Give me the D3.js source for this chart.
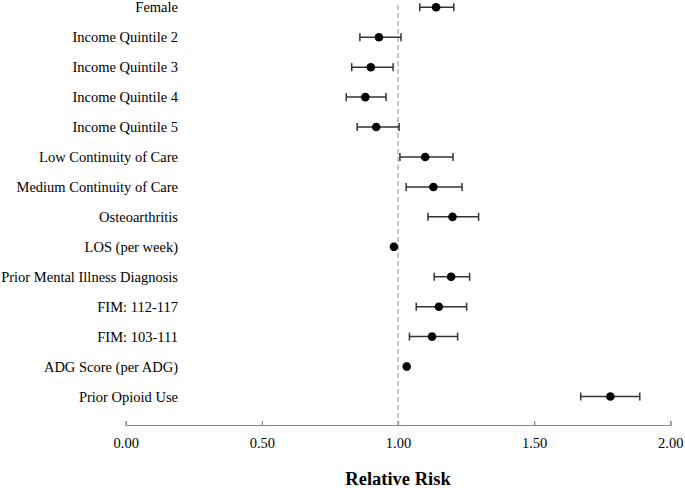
<!DOCTYPE html>
<html>
<head>
<meta charset="utf-8">
<script src="https://cdn.jsdelivr.net/npm/d3@7"></script>
<style>
  html, body { margin: 0; padding: 0; background: #fff; }
  svg { display: block; }
  text { font-family: "Liberation Serif", "Times New Roman", serif; fill: #000; }
</style>
</head>
<body>
<svg id="chart" width="685" height="488"></svg>
<script>
const categories = [
  "Female", "Income Quintile 2", "Income Quintile 3", "Income Quintile 4", "Income Quintile 5",
  "Low Continuity of Care", "Medium Continuity of Care", "Osteoarthritis", "LOS (per week)",
  "Prior Mental Illness Diagnosis", "FIM: 112-117", "FIM: 103-111", "ADG Score (per ADG)", "Prior Opioid Use"
];
const estimates = [1.14, 0.93, 0.90, 0.88, 0.92, 1.10, 1.13, 1.20, 0.985, 1.195, 1.15, 1.125, 1.032, 1.78];
const lowerCI  = [1.08, 0.86, 0.83, 0.81, 0.85, 1.007, 1.03, 1.11, 0.98, 1.133, 1.067, 1.042, 1.028, 1.671];
const upperCI  = [1.205, 1.011, 0.982, 0.956, 1.004, 1.202, 1.235, 1.296, 0.99, 1.263, 1.252, 1.219, 1.036, 1.888];
const xTicks = [0, 0.5, 1, 1.5, 2];
const xTitle = "Relative Risk";
const refValue = 1;

const svg = d3.select("#chart");
const x = d3.scaleLinear().domain([0, 2]).range([125.7, 670.3]);
const y = d3.scalePoint().domain(categories).range([7.3, 396.5]);
const axisY = 425;

// Reference dashed line
svg.append("line")
  .attr("x1", x(refValue)).attr("x2", x(refValue))
  .attr("y1", 5).attr("y2", axisY)
  .attr("stroke", "#a0a0a0").attr("stroke-width", 1.2)
  .attr("stroke-dasharray", "5,3");

// Axis
const axis = d3.axisBottom(x).tickValues(xTicks).tickFormat(d3.format(".2f")).tickSizeInner(-4).tickSizeOuter(-4).tickPadding(13);
const gAxis = svg.append("g").attr("transform", `translate(0,${axisY})`).call(axis);
gAxis.select(".domain").attr("stroke", "#8a8a8a").attr("stroke-width", 1.2);
gAxis.selectAll(".tick line").attr("stroke", "#8a8a8a").attr("stroke-width", 1.2);
gAxis.selectAll(".tick text")
  .attr("font-family", "Liberation Serif, Times New Roman, serif")
  .attr("font-size", "14.5px").attr("fill", "#000");

// Axis title
svg.append("text")
  .attr("x", x(1)).attr("y", 484.5)
  .attr("text-anchor", "middle")
  .attr("font-size", "18.5px").attr("font-weight", "bold")
  .text(xTitle);

// Category labels
svg.append("g").selectAll("text").data(categories).join("text")
  .attr("x", 178).attr("y", d => y(d))
  .attr("dy", "0.35em")
  .attr("text-anchor", "end")
  .attr("font-size", "14.5px")
  .text(d => d);

// Error bars
const rows = categories.map((c, i) => ({c, est: estimates[i], lo: lowerCI[i], hi: upperCI[i]}));
const eb = svg.append("g").attr("stroke", "#333").attr("stroke-width", 1.5);
eb.selectAll("line.h").data(rows).join("line").attr("class", "h")
  .attr("x1", d => x(d.lo)).attr("x2", d => x(d.hi))
  .attr("y1", d => y(d.c)).attr("y2", d => y(d.c));
eb.selectAll("line.l").data(rows).join("line").attr("class", "l")
  .attr("x1", d => x(d.lo)).attr("x2", d => x(d.lo))
  .attr("y1", d => y(d.c) - 4).attr("y2", d => y(d.c) + 4);
eb.selectAll("line.r").data(rows).join("line").attr("class", "r")
  .attr("x1", d => x(d.hi)).attr("x2", d => x(d.hi))
  .attr("y1", d => y(d.c) - 4).attr("y2", d => y(d.c) + 4);

// Points
svg.append("g").selectAll("circle").data(rows).join("circle")
  .attr("cx", d => x(d.est)).attr("cy", d => y(d.c))
  .attr("r", 4.3).attr("fill", "#000");
</script>
</body>
</html>
